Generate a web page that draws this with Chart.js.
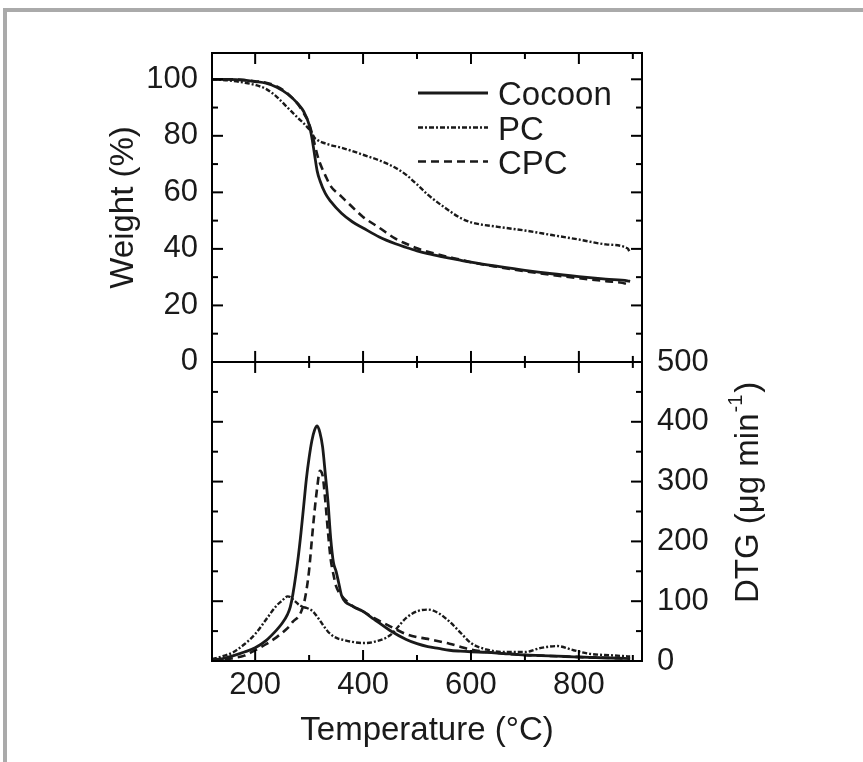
<!DOCTYPE html>
<html>
<head>
<meta charset="utf-8">
<script src="https://cdn.jsdelivr.net/npm/chart.js@4.4.1/dist/chart.umd.min.js"></script>
<style>
  body { margin: 0; background: #fff; }
  #wrap { position: relative; width: 863px; height: 762px; overflow: hidden; }
  #edge { position: absolute; left: 3px; top: 8px; width: 900px; height: 800px;
          border-top: 4px solid #aaa; border-left: 4px solid #aaa; }
  #tga { position: absolute; left: 0; top: 0; }
</style>
</head>
<body>
<div id="wrap">
  <div id="edge"></div>
  <canvas id="tga" width="863" height="762"></canvas>
</div>
<script>
const seriesNames = ['Cocoon', 'PC', 'CPC'];

// weight loss (top panel)
const tempTG = [120, 150, 180, 200, 220, 240, 260, 280, 290, 300, 305, 310, 315, 320, 330, 340, 360, 380, 400, 430, 460, 480, 500, 520, 550, 580, 600, 650, 700, 750, 800, 850, 890, 895];
const weightCocoon = [100, 100, 99.7, 99.2, 98.6, 97.2, 94.8, 91.2, 88.6, 84, 79.5, 73.5, 67.5, 64.2, 59.6, 56.8, 52.6, 49.6, 47.4, 44.2, 41.8, 40.5, 39.3, 38.3, 37.1, 36, 35.3, 33.8, 32.4, 31.2, 30.2, 29.3, 28.7, 28.5];
const weightPC = [100, 99.6, 98.8, 98, 96.6, 93.8, 90, 86.2, 84.4, 82.3, 81, 79.3, 78.6, 78, 77.3, 76.7, 75.8, 74.6, 73.3, 71.3, 68.7, 66.2, 62.8, 59.2, 54.8, 51, 49.4, 47.8, 46.5, 44.9, 43.3, 41.6, 40.2, 38.6];
const weightCPC = [100, 100, 99.7, 99.3, 98.8, 97.5, 95, 91, 88, 84.3, 81, 77.3, 73.4, 70.4, 66, 62.2, 58.5, 54.8, 51.3, 47.5, 43.6, 41.8, 40.2, 39, 37.5, 36.2, 35.3, 33.6, 32.1, 30.8, 29.6, 28.6, 27.5, 27];

// DTG (bottom panel)
const tempDTG = [120, 140, 160, 180, 200, 220, 240, 250, 260, 265, 270, 280, 285, 290, 295, 300, 305, 310, 315, 320, 325, 330, 335, 340, 345, 350, 355, 360, 380, 400, 420, 450, 480, 500, 520, 540, 560, 580, 600, 630, 660, 700, 730, 760, 790, 820, 860, 895];
const dtgCocoon = [2, 4, 9, 15, 22, 34, 52, 63, 78, 90, 112, 175, 215, 260, 305, 340, 368, 386, 393, 382, 358, 313, 266, 205, 165, 150, 130, 110, 92, 83, 70, 51, 36, 29, 24, 21, 18, 16.5, 15.5, 14.5, 12.5, 10, 9, 8, 7, 6, 5, 4];
const dtgPC = [3, 8, 15, 28, 45, 69, 93, 101, 108, 107, 103, 95, 92, 90, 89, 87, 84.5, 80, 74, 68, 61, 55, 49, 45, 41, 39, 37, 36, 32, 30, 32, 43, 72, 83, 86, 80, 66, 48, 30, 19, 15, 15, 22, 25, 18, 12, 9.5, 7.5];
const dtgCPC = [1, 2, 5, 9, 18, 28, 40, 47, 55, 60, 66, 74, 82, 95, 118, 152, 202, 250, 290, 318, 310, 268, 215, 170, 145, 125, 115, 109, 92, 83, 72, 58, 45, 40, 37, 33, 29, 24, 19, 15, 12.5, 10, 9, 8, 7, 6, 5, 4];

// ticks
const tempTicks = [200, 400, 600, 800];
const tempMinor = [300, 500, 700, 900];
const weightTicks = [0, 20, 40, 60, 80, 100];
const weightMinor = [10, 30, 50, 70, 90];
const dtgTicks = [0, 100, 200, 300, 400, 500];
const dtgMinor = [50, 150, 250, 350, 450];

const FONT = '"Liberation Sans", Arial, sans-serif';
const INK = '#1a1a1a';
const styles = [
    { width: 2.8, dash: [] },
    { width: 2.4, dash: [5, 2, 2, 2] },
    { width: 2.6, dash: [8, 5] }
];

function pts(xs, ys) {
    return xs.map((t, i) => ({ x: t, y: ys[i] }));
}

function series(name, i, xs, ys, axis) {
    return {
        label: name,
        data: pts(xs, ys),
        yAxisID: axis,
        borderColor: INK,
        borderWidth: styles[i].width,
        borderDash: styles[i].dash,
        pointRadius: 0,
        fill: false,
        cubicInterpolationMode: 'monotone'
    };
}

// frame, inward ticks, titles and legend
const panelDecor = {
    id: 'panelDecor',
    afterDatasetsDraw(chart) {
        const { ctx, chartArea: a, scales } = chart;
        const x = scales.x, yW = scales.yW, yD = scales.yD;
        const mid = yW.getPixelForValue(0);
        const seg = (x1, y1, x2, y2) => { ctx.beginPath(); ctx.moveTo(x1, y1); ctx.lineTo(x2, y2); ctx.stroke(); };

        ctx.save();
        ctx.strokeStyle = '#000';
        ctx.lineWidth = 2;
        ctx.strokeRect(a.left, a.top, a.right - a.left, a.bottom - a.top);
        seg(a.left, mid, a.right, mid);

        const xt = (vals, len) => vals.forEach(v => {
            const px = x.getPixelForValue(v);
            seg(px, a.top, px, a.top + len);
            seg(px, mid - len, px, mid + len);
            seg(px, a.bottom, px, a.bottom - len);
        });
        xt(tempTicks, 11);
        xt(tempMinor, 6);

        const yt = (scale, vals, len) => vals.forEach(v => {
            const py = scale.getPixelForValue(v);
            seg(a.left, py, a.left + len, py);
            seg(a.right, py, a.right - len, py);
        });
        yt(yW, weightTicks.filter(v => v > 0), 11);
        yt(yW, weightMinor, 6);
        yt(yD, dtgTicks.filter(v => v < 500), 11);
        yt(yD, dtgMinor, 6);

        // legend
        ctx.fillStyle = INK;
        ctx.font = '33px ' + FONT;
        ctx.textAlign = 'left';
        ctx.textBaseline = 'alphabetic';
        const legY = [93, 127.5, 161.5];
        chart.data.datasets.slice(0, 3).forEach((ds, i) => {
            ctx.save();
            ctx.lineWidth = ds.borderWidth;
            ctx.strokeStyle = INK;
            ctx.setLineDash(ds.borderDash);
            seg(418, legY[i], 488, legY[i]);
            ctx.restore();
            ctx.fillText(ds.label, 498, legY[i] + 12);
        });

        // axis titles
        ctx.textAlign = 'center';
        ctx.fillText('Temperature (°C)', (a.left + a.right) / 2, a.bottom + 79);

        ctx.save();
        ctx.translate(a.left - 79, (a.top + mid) / 2);
        ctx.rotate(-Math.PI / 2);
        ctx.fillText('Weight (%)', 0, 0);
        ctx.restore();

        ctx.save();
        ctx.translate(a.right + 116, a.bottom - 58);
        ctx.rotate(-Math.PI / 2);
        ctx.textAlign = 'left';
        const p1 = 'DTG (μg min';
        ctx.fillText(p1, 0, 0);
        let w = ctx.measureText(p1).width;
        ctx.font = '20px ' + FONT;
        ctx.fillText('-1', w + 1, -16);
        w += ctx.measureText('-1').width + 3;
        ctx.font = '33px ' + FONT;
        ctx.fillText(')', w, 0);
        ctx.restore();

        ctx.restore();
    }
};

const tickFont = { family: FONT, size: 31 };
const noGrid = { display: false, drawTicks: false };

new Chart(document.getElementById('tga'), {
    type: 'line',
    data: {
        datasets: [
            series(seriesNames[0], 0, tempTG, weightCocoon, 'yW'),
            series(seriesNames[1], 1, tempTG, weightPC, 'yW'),
            series(seriesNames[2], 2, tempTG, weightCPC, 'yW'),
            series(seriesNames[0], 0, tempDTG, dtgCocoon, 'yD'),
            series(seriesNames[1], 1, tempDTG, dtgPC, 'yD'),
            series(seriesNames[2], 2, tempDTG, dtgCPC, 'yD')
        ]
    },
    options: {
        responsive: false,
        animation: false,
        layout: { padding: { top: 53, left: 0, right: 0, bottom: 0 } },
        plugins: { legend: { display: false }, tooltip: { enabled: false } },
        scales: {
            x: {
                type: 'linear',
                min: 120,
                max: 917,
                grid: noGrid,
                border: { display: false },
                afterBuildTicks: s => { s.ticks = tempTicks.map(v => ({ value: v })); },
                afterFit: s => { s.height = 101; },
                ticks: { font: tickFont, color: INK, padding: 6, maxRotation: 0, autoSkip: false }
            },
            yW: {
                type: 'linear',
                position: 'left',
                min: -105.8,
                max: 109.3,
                grid: noGrid,
                border: { display: false },
                afterBuildTicks: s => { s.ticks = weightTicks.map(v => ({ value: v })); },
                afterFit: s => { s.width = 212; },
                ticks: { font: tickFont, color: INK, padding: 14 }
            },
            yD: {
                type: 'linear',
                position: 'right',
                min: 0,
                max: 1016.7,
                grid: noGrid,
                border: { display: false },
                afterBuildTicks: s => { s.ticks = dtgTicks.map(v => ({ value: v })); },
                afterFit: s => { s.width = 221; },
                ticks: { font: tickFont, color: INK, padding: 15 }
            }
        }
    },
    plugins: [panelDecor]
});
</script>
</body>
</html>
